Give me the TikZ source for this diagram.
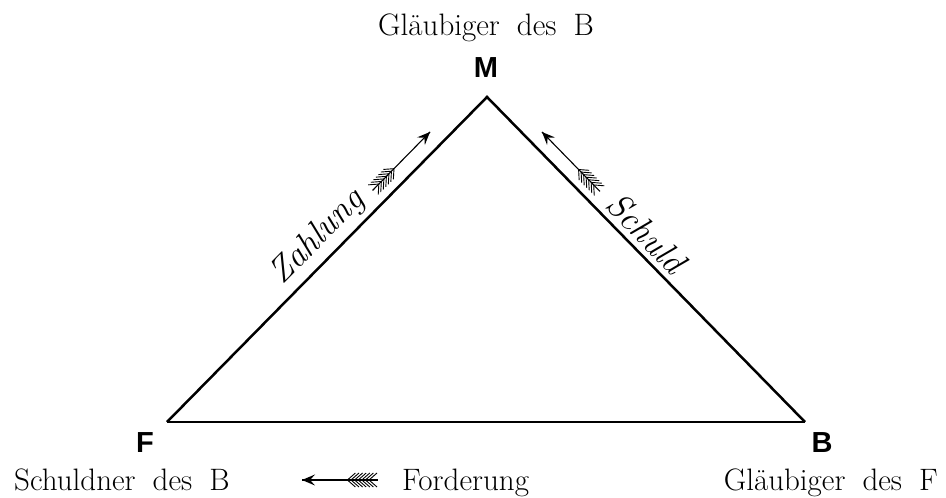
\documentclass[tikz,border=0pt]{standalone}
\usepackage{fontspec}
\newfontfamily\headfont{Liberation Sans}
\newcommand\lblfont{\fontsize{31}{37}\selectfont\spaceskip 0.55em\relax}
\newcommand\fletcharrow[4]{%
  \begin{scope}[shift={(#1)}, rotate=#2]
    \draw[line width=1.1pt] (0,0) -- (-#3,0);
    \fill (0,0) -- (-13,5.5) -- (-8,0) -- (-13,-5.5) -- cycle;
    \foreach \k in {1,...,#4} {
      \draw[line width=0.9pt] ({-#3+9+(\k-1)*3.6},0) -- ++(-8,7)
                              ({-#3+9+(\k-1)*3.6},0) -- ++(-8,-7);
    }
  \end{scope}}
\begin{document}
\begin{tikzpicture}[x=1pt,y=1pt,
  lbl/.style={font=\lblfont, inner sep=0pt},
  corner/.style={font=\headfont\bfseries\fontsize{29}{34}\selectfont, inner sep=0pt},
  side/.style={line width=2.5pt, line join=miter},
  slant/.style={font=\itshape\fontsize{35}{40}\selectfont, inner sep=2pt}]
\useasboundingbox (0,0) rectangle (946,498);
% corners
\coordinate (F) at (167,76);
\coordinate (M) at (487,401);
\coordinate (B) at (805,76);
% triangle
\draw[side] (F) -- (M) -- (B);
\draw[side] (F) -- (B);
% labels of vertices
\node[lbl, anchor=base] (gb) at (486,462) {Gläubiger des B};
\node[corner, anchor=base] (m) at (486,420) {M};
\node[corner, anchor=base] (f) at (145,45) {F};
\node[corner, anchor=base] (b) at (822,45) {B};
\node[lbl, anchor=base west] (sb) at (14,7) {Schuldner des B};
\node[lbl, anchor=base west] (fo) at (402,7) {Forderung};
\node[lbl, anchor=base east] (gf) at (938,7) {Gläubiger des F};
% side labels
\path (F) -- (M) node[slant, sloped, pos=0.52, above=4pt] (zl) {Zahlung};
\path (M) -- (B) node[slant, sloped, pos=0.46, above=4pt] (sl) {Schuld};
% arrows
\coordinate (tipZ) at (430,366);
\coordinate (tipS) at (542,366);
\coordinate (tipF) at (302,18);
\fletcharrow{tipZ}{45.5}{82}{7}
\fletcharrow{tipS}{134.3}{83}{7}
\fletcharrow{tipF}{180}{76}{7}
\end{tikzpicture}
\end{document}
